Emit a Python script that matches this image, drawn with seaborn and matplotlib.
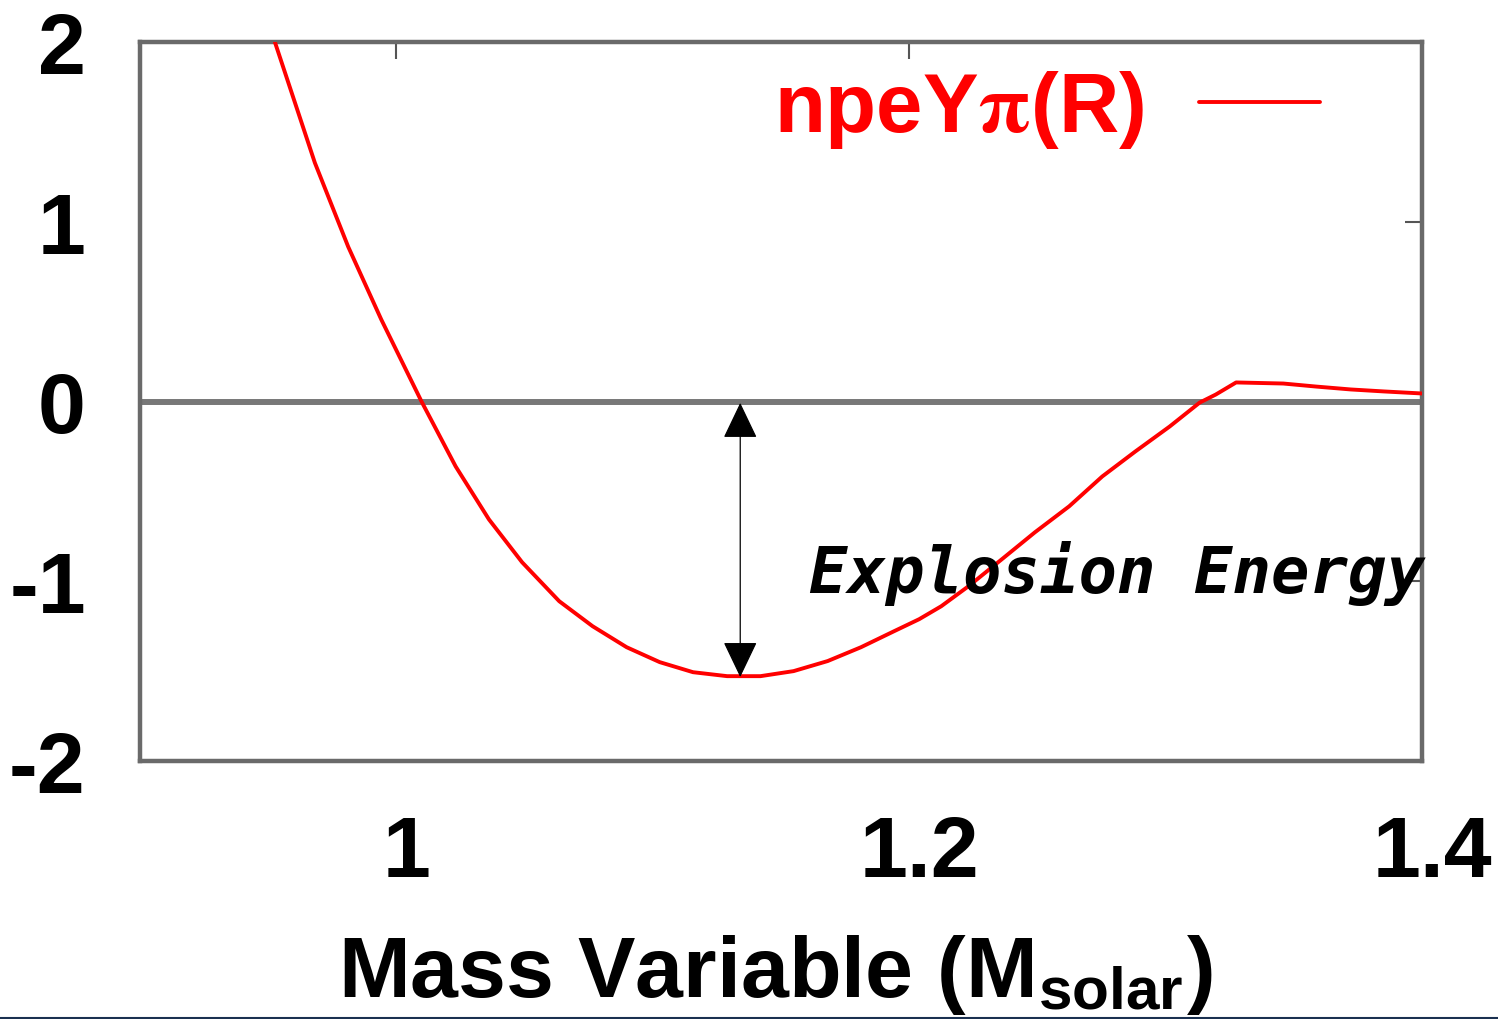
import numpy as np
import pandas as pd
import matplotlib
matplotlib.use("Agg")
import matplotlib.pyplot as plt
import matplotlib.transforms as mtransforms
import seaborn as sns
from matplotlib.patches import FancyArrowPatch
from matplotlib.lines import Line2D

# ---- data ----
mass = [0.9526, 0.9682, 0.9812, 0.9941, 1.0098, 1.0231, 1.0361, 1.0490,
        1.0635, 1.0765, 1.0898, 1.1027, 1.1157, 1.1290, 1.1420, 1.1549,
        1.1682, 1.1812, 1.1941, 1.2039, 1.2125, 1.2231, 1.2361, 1.2490,
        1.2624, 1.2753, 1.2882, 1.3016, 1.3133, 1.3196, 1.3275, 1.3459,
        1.3588, 1.3722, 1.3851, 1.4008]
energy = [2.0, 1.328, 0.861, 0.456, 0.0, -0.361, -0.656, -0.894,
          -1.111, -1.25, -1.367, -1.45, -1.506, -1.528, -1.528, -1.5,
          -1.444, -1.367, -1.278, -1.211, -1.139, -1.028, -0.878, -0.728,
          -0.583, -0.417, -0.278, -0.139, -0.006, 0.039, 0.106, 0.1,
          0.083, 0.067, 0.056, 0.044]
series_label = r"npeY$\mathrm{\pi}$(R)"
x_ticks = [1.0, 1.2, 1.4]
x_tick_labels = ["1", "1.2", "1.4"]
y_ticks = [-2, -1, 0, 1, 2]
y_tick_labels = ["-2", "-1", "0", "1", "2"]
arrow_x = 1.1341
arrow_top = 0.0
arrow_bottom = -1.533
annot_text = "Explosion Energy"
xlabel_text = r"Mass Variable (M$_{\mathregular{solar}}$)"

df = pd.DataFrame({"mass": mass, "energy": energy})

sns.set_theme(style="white")
plt.rcParams["font.family"] = ["Liberation Sans", "DejaVu Sans"]
plt.rcParams["font.weight"] = "bold"
plt.rcParams["mathtext.fontset"] = "stix"

fig = plt.figure(figsize=(14.98, 10.20), dpi=100)
ax = fig.add_axes([140 / 1498, 1 - 762 / 1020, 1282 / 1498, 719 / 1020])

frame_col = "#6a6a6a"
ax.axhline(0, color="#787878", lw=4.3, zorder=1)

sns.lineplot(data=df, x="mass", y="energy", ax=ax, color="#ff0000", lw=2.8,
             sort=False, label=series_label, zorder=3)

ax.set_xlim(0.9, 1.4)
ax.set_ylim(-2, 2)
ax.set_xticks(x_ticks)
ax.set_xticklabels(x_tick_labels)
ax.set_yticks(y_ticks)
ax.set_yticklabels(y_tick_labels)
ax.set_xlabel("")
ax.set_ylabel("")

for s in ax.spines.values():
    s.set_color(frame_col)
    s.set_linewidth(3.2)
    s.set_visible(True)

ax.tick_params(axis="both", direction="in", length=12, width=1.5,
               color="#555555", labelcolor="black", top=True, right=True,
               labelsize=62)
ax.tick_params(axis="x", pad=38)
ax.tick_params(axis="y", pad=39)
shift = mtransforms.ScaledTranslation(10 / 100, 0, fig.dpi_scale_trans)
for lab in ax.get_xticklabels():
    lab.set_fontweight("bold")
    lab.set_transform(lab.get_transform() + shift)
for lab in ax.get_yticklabels():
    lab.set_fontweight("bold")

# double-headed arrow
arr = FancyArrowPatch((arrow_x, arrow_top), (arrow_x, arrow_bottom),
                      arrowstyle="<|-|>,head_length=2.3,head_width=1.1",
                      mutation_scale=10, shrinkA=1, shrinkB=0,
                      color="black", lw=0.9, zorder=4)
ax.add_patch(arr)

ax.text(1.1608, -1.061, annot_text, family="DejaVu Sans Mono",
        fontweight="bold", style="oblique", fontsize=46, color="black",
        ha="left", va="baseline", zorder=5)

leg = ax.legend(loc="center right", bbox_to_anchor=(0.9204, 0.9068),
                borderaxespad=0, borderpad=0, frameon=False, markerfirst=False,
                handlelength=1.45, handletextpad=0.66,
                labelcolor="#ff0000", prop={"weight": "bold", "size": 60})

fig.text(338 / 1498, 1 - 997 / 1020, xlabel_text, fontsize=62,
         fontweight="bold", ha="left", va="baseline", color="black")

fig.add_artist(Line2D([0, 1], [1.0 / 1020, 1.0 / 1020], transform=fig.transFigure,
                      color="#1a3050", lw=1.5))

fig.savefig("out.png", dpi=100)
